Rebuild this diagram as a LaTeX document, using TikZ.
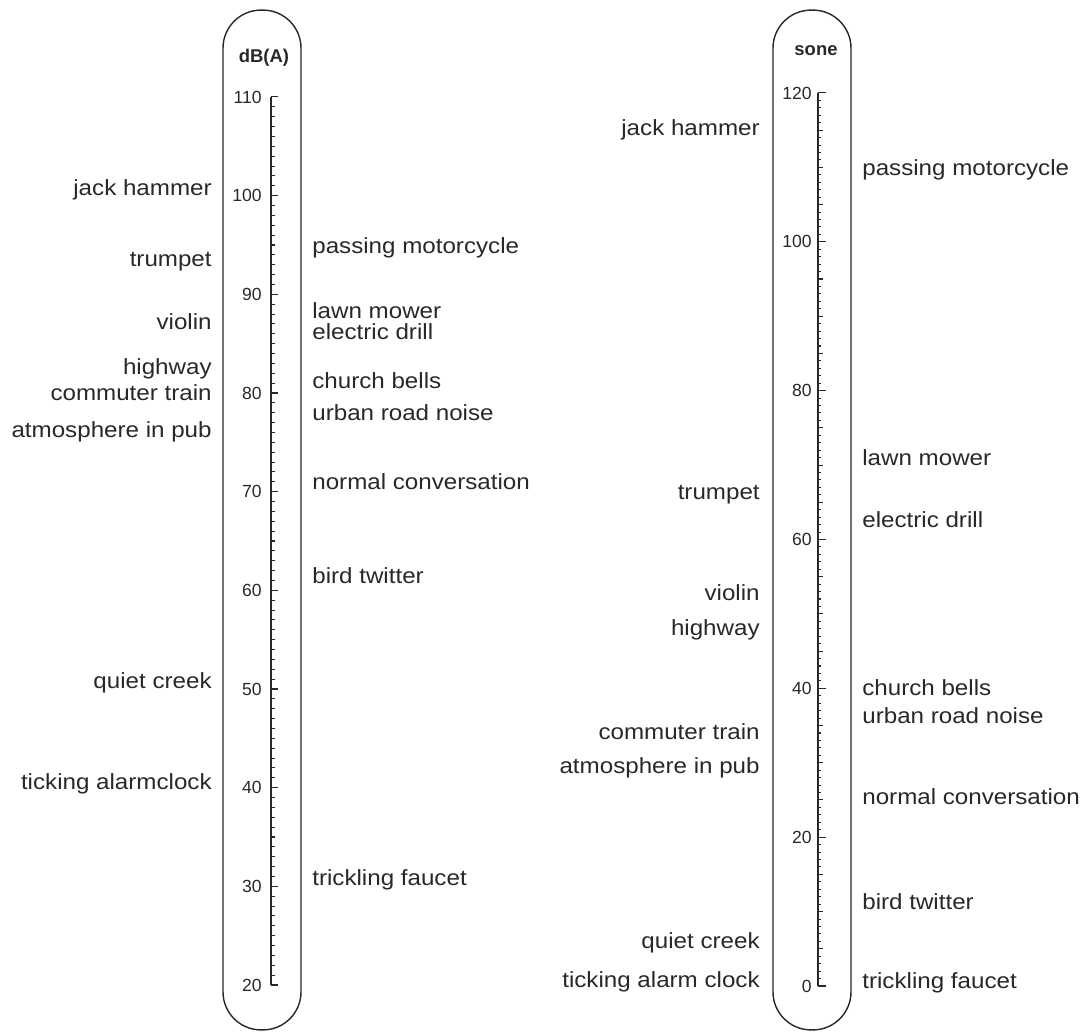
\documentclass[tikz,border=0pt]{standalone}
\usepackage{fontspec}
\setmainfont{Liberation Sans}
\newfontfamily\srcfont[FakeStretch=1.1]{Liberation Sans}
\definecolor{lsInk}{RGB}{40,40,40}
\usetikzlibrary{positioning}

\begin{document}
\begin{tikzpicture}[
  x=0.02cm, y=-0.02cm,
  capsule/.style={draw=lsInk, line width=0.8pt, rounded corners=0.76cm,
                  minimum width=1.56cm, minimum height=20.4cm, inner sep=0pt},
  unit/.style={font=\fontsize{10.5}{12}\selectfont\bfseries, text=lsInk},
  num/.style={font=\fontsize{10}{12}\selectfont, text=lsInk,
              anchor=east, inner sep=0pt},
  srcl/.style={font=\srcfont\fontsize{12.5}{14}\selectfont, text=lsInk,
               anchor=east, inner sep=0pt},
  srcr/.style={font=\srcfont\fontsize{12.5}{14}\selectfont, text=lsInk,
               anchor=west, inner sep=0pt},
  axis/.style={draw=lsInk, line width=0.6pt},
]
  \useasboundingbox (0,0) rectangle (1086,1034);

  % the two capsules
  \node[capsule] (dbcap)   at (262,520) {};
  \node[capsule] (sonecap) at (812,520) {};
  \node[unit] (dbunit)   at (264,58) {dB(A)};
  \node[unit] (soneunit) at (816,51) {sone};

  % dB(A) scale, 20 .. 110
  \coordinate (dbtop) at (271,97);
  \coordinate (dbbot) at (271,985);
  \draw[axis] (dbtop) -- (dbbot);
  \foreach \v in {20,...,110} {
    \pgfmathsetmacro\yy{985-(\v-20)*9.867}
    \draw[axis] (271,\yy) -- ++(3.5,0);
  }
  \foreach \v in {20,30,...,110} {
    \pgfmathsetmacro\yy{985-(\v-20)*9.867}
    \draw[axis] (271,\yy) -- ++(7,0);
    \node[num] (db\v) at (262,\yy) {\v};
  }

  % sone scale, 0 .. 120
  \coordinate (sonetop) at (818,93);
  \coordinate (sonebot) at (818,986);
  \draw[axis] (sonetop) -- (sonebot);
  \foreach \v in {0,...,120} {
    \pgfmathsetmacro\yy{986-\v*7.442}
    \draw[axis] (818,\yy) -- ++(3,0);
  }
  \foreach \v in {0,5,...,120} {
    \pgfmathsetmacro\yy{986-\v*7.442}
    \draw[axis] (818,\yy) -- ++(5,0);
  }
  \foreach \v in {0,20,...,120} {
    \pgfmathsetmacro\yy{986-\v*7.442}
    \draw[axis] (818,\yy) -- ++(8,0);
    \node[num] (sone\v) at (812,\yy) {\v};
  }

  % sources on the dB(A) scale
  \foreach \name/\yy/\txt in {
      dbjack/190/jack hammer, dbtrumpet/262/trumpet, dbviolin/322/violin,
      dbhighway/369/highway, dbtrain/393/commuter train,
      dbpub/432/atmosphere in pub, dbcreek/683/quiet creek,
      dbclock/784/ticking alarmclock}
    \node[srcl] (\name) at (212,\yy) {\txt};
  \foreach \name/\yy/\txt in {
      dbmoto/248/passing motorcycle, dbmower/311/lawn mower,
      dbdrill/332/electric drill, dbbells/381/church bells,
      dbroad/413/urban road noise, dbtalk/482/normal conversation,
      dbbird/576/bird twitter, dbfaucet/880/trickling faucet}
    \node[srcr] (\name) at (312,\yy) {\txt};

  % sources on the sone scale
  \foreach \name/\yy/\txt in {
      sjack/130/jack hammer, strumpet/495/trumpet, sviolin/593/violin,
      shighway/630/highway, strain/732/commuter train,
      spub/768/atmosphere in pub, screek/943/quiet creek,
      sclock/982/ticking alarm clock}
    \node[srcl] (\name) at (760,\yy) {\txt};
  \foreach \name/\yy/\txt in {
      smoto/170/passing motorcycle, smower/458/lawn mower,
      sdrill/520/electric drill, sbells/688/church bells,
      sroad/716/urban road noise, stalk/797/normal conversation,
      sbird/902/bird twitter, sfaucet/983/trickling faucet}
    \node[srcr] (\name) at (862,\yy) {\txt};
\end{tikzpicture}
\end{document}
